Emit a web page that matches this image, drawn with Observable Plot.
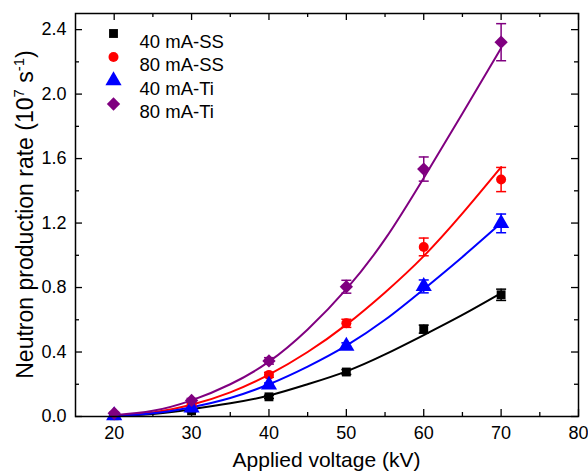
<!DOCTYPE html>
<html>
<head>
<meta charset="utf-8">
<script src="https://cdn.jsdelivr.net/npm/d3@7"></script>
<script src="https://cdn.jsdelivr.net/npm/@observablehq/plot@0.6"></script>
<style>
  html, body { margin: 0; padding: 0; background: #fff; }
  #chart { width: 588px; height: 472px; }
</style>
</head>
<body>
<div id="chart"></div>
<script>
// ---- data ----
const voltage = [20, 30, 40, 50, 60, 70];
const seriesNames = ["40 mA-SS", "80 mA-SS", "40 mA-Ti", "80 mA-Ti"];
const seriesColors = ["#000000", "#ff0000", "#0000ff", "#800080"];
const seriesSymbols = ["square", "circle", "triangle", "diamond2"];

const ss40 = [0.005, 0.035, 0.122, 0.276, 0.542, 0.755];
const ss80 = [0.008, 0.07, 0.258, 0.578, 1.052, 1.47];
const ti40 = [0.006, 0.053, 0.196, 0.437, 0.807, 1.198];
const ti80 = [0.02, 0.10, 0.345, 0.805, 1.535, 2.322];

const ss40Err = [0.005, 0.006, 0.01, 0.015, 0.025, 0.035];
const ss80Err = [0.005, 0.01, 0.015, 0.025, 0.055, 0.075];
const ti40Err = [0.005, 0.006, 0.012, 0.02, 0.04, 0.058];
const ti80Err = [0.005, 0.012, 0.02, 0.04, 0.075, 0.115];

// fitted curves, every 5 kV
const fitVoltage = [20, 25, 30, 35, 40, 45, 50, 55, 60, 65, 70];
const ss40Fit = [0.002, 0.015, 0.045, 0.082, 0.13, 0.20, 0.28, 0.385, 0.505, 0.63, 0.765];
const ss80Fit = [0.004, 0.025, 0.073, 0.15, 0.26, 0.40, 0.57, 0.77, 0.995, 1.26, 1.547];
const ti40Fit = [0.003, 0.02, 0.058, 0.115, 0.20, 0.31, 0.44, 0.60, 0.79, 0.99, 1.20];
const ti80Fit = [0.008, 0.035, 0.10, 0.20, 0.34, 0.54, 0.79, 1.10, 1.48, 1.88, 2.285];

const xMajorTicks = [20, 30, 40, 50, 60, 70, 80];
const xMinorTicks = [25, 35, 45, 55, 65, 75];
const yMajorTicks = [0, 0.4, 0.8, 1.2, 1.6, 2.0, 2.4];
const yMinorTicks = [0.2, 0.6, 1.0, 1.4, 1.8, 2.2];

// ---- tables ----
const values = [ss40, ss80, ti40, ti80];
const errors = [ss40Err, ss80Err, ti40Err, ti80Err];
const fits = [ss40Fit, ss80Fit, ti40Fit, ti80Fit];
const markerR = [5, 5, 6, 6];

const points = [];
seriesNames.forEach((s, i) => voltage.forEach((v, j) => points.push({
  series: s, idx: i, color: seriesColors[i], symbol: seriesSymbols[i],
  v, y: values[i][j], lo: values[i][j] - errors[i][j], hi: values[i][j] + errors[i][j]
})));
const fitRows = [];
seriesNames.forEach((s, i) => fitVoltage.forEach((v, j) => fitRows.push({
  series: s, color: seriesColors[i], v, y: fits[i][j]
})));

const capSymbol = {
  draw(context, size) {
    const r = Math.sqrt(size / Math.PI);
    context.moveTo(-r, 0);
    context.lineTo(r, 0);
  }
};

const W = 588, H = 472;
const mL = 75, mR = 10, mT = 13, mB = 56;
const innerW = W - mL - mR, innerH = H - mT - mB;

const markerMarks = seriesNames.map((s, i) => Plot.dot(points.filter(d => d.idx === i), {
  x: "v", y: "y", symbol: seriesSymbols[i], fill: seriesColors[i], stroke: "none", r: markerR[i]
}));

const legendMarks = [];
seriesNames.forEach((s, i) => {
  const dy = [20, 43.5, 67, 90.5][i];
  legendMarks.push(Plot.dot([s], {
    frameAnchor: "top-left", dx: 38, dy, symbol: seriesSymbols[i],
    fill: seriesColors[i], r: markerR[i]
  }));
  legendMarks.push(Plot.text([s], {
    frameAnchor: "top-left", dx: 64, dy: dy + 1, text: d => d,
    textAnchor: "start", fill: "#000", fontSize: 18.5
  }));
});

const plot = Plot.plot({
  width: W, height: H,
  marginLeft: mL, marginRight: mR, marginTop: mT, marginBottom: mB,
  style: { fontFamily: "'Liberation Sans', Arial, sans-serif", fontSize: "18px", color: "#000", background: "#fff", overflow: "visible" },
  x: { domain: [15, 80] },
  y: { domain: [0, 2.5] },
  marks: [
    Plot.axisX({ anchor: "bottom", ticks: xMajorTicks, tickSize: 0, tickPadding: 10, label: null, fontSize: 18 }),
    Plot.axisY({ anchor: "left", ticks: yMajorTicks, tickSize: 0, tickPadding: 9, label: null, tickFormat: d3.format(".1f"), fontSize: 18 }),
    // inward ticks on all four sides
    Plot.tickX(xMajorTicks, { x: d => d, insetTop: innerH - 7, stroke: "#000", strokeWidth: 1.3 }),
    Plot.tickX(xMinorTicks, { x: d => d, insetTop: innerH - 4, stroke: "#000", strokeWidth: 1.3 }),
    Plot.tickX(xMajorTicks, { x: d => d, insetBottom: innerH - 7, stroke: "#000", strokeWidth: 1.3 }),
    Plot.tickX(xMinorTicks, { x: d => d, insetBottom: innerH - 4, stroke: "#000", strokeWidth: 1.3 }),
    Plot.tickY(yMajorTicks, { y: d => d, insetRight: innerW - 7, stroke: "#000", strokeWidth: 1.3 }),
    Plot.tickY(yMinorTicks, { y: d => d, insetRight: innerW - 4, stroke: "#000", strokeWidth: 1.3 }),
    Plot.tickY(yMajorTicks, { y: d => d, insetLeft: innerW - 7, stroke: "#000", strokeWidth: 1.3 }),
    Plot.tickY(yMinorTicks, { y: d => d, insetLeft: innerW - 4, stroke: "#000", strokeWidth: 1.3 }),
    // fit curves
    Plot.line(fitRows, { x: "v", y: "y", z: "series", stroke: "color", strokeWidth: 2, curve: "natural" }),
    // error bars
    Plot.ruleX(points, { x: "v", y1: "lo", y2: "hi", stroke: "color", strokeWidth: 1.5 }),
    Plot.dot(points, { x: "v", y: "hi", symbol: capSymbol, r: 5, stroke: "color", fill: "none", strokeWidth: 1.5 }),
    Plot.dot(points, { x: "v", y: "lo", symbol: capSymbol, r: 5, stroke: "color", fill: "none", strokeWidth: 1.5 }),
    // markers
    ...markerMarks,
    ...legendMarks,
    Plot.frame({ stroke: "#000", strokeWidth: 1.5 })
  ]
});

document.getElementById("chart").appendChild(plot);

// axis titles
const svg = d3.select(plot);
svg.append("text")
  .attr("x", mL + innerW / 2).attr("y", 467)
  .attr("text-anchor", "middle")
  .style("font-size", "21px").attr("fill", "#000")
  .text("Applied voltage (kV)");

const yt = svg.append("text")
  .attr("transform", `translate(33,${mT + innerH / 2}) rotate(-90)`)
  .attr("text-anchor", "middle")
  .style("font-size", "23px").attr("fill", "#000");
yt.append("tspan").text("Neutron production rate (10");
yt.append("tspan").attr("dy", -9).style("font-size", "15px").text("7");
yt.append("tspan").attr("dy", 9).text(" s");
yt.append("tspan").attr("dy", -9).style("font-size", "15px").text("-1");
yt.append("tspan").attr("dy", 9).text(")");
</script>
</body>
</html>
